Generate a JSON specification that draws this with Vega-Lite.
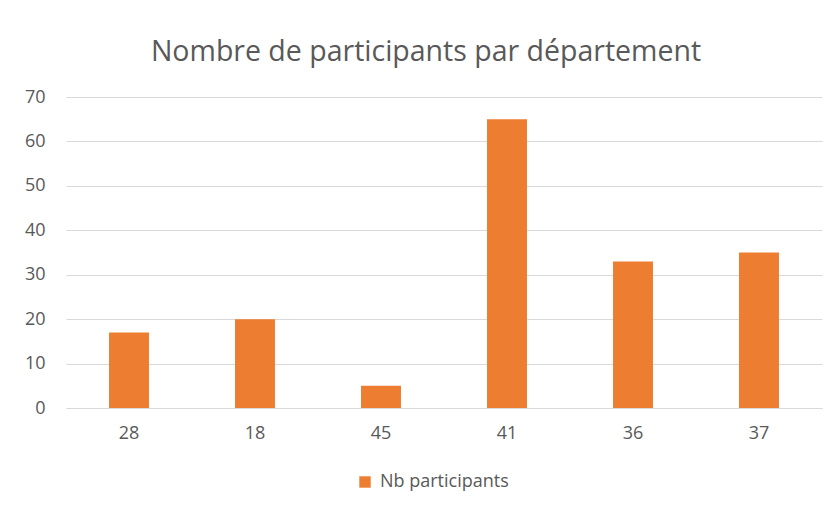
{
  "$schema": "https://vega.github.io/schema/vega-lite/v6.json",
  "width": 756,
  "height": 311,
  "autosize": "none",
  "padding": {"left": 66, "top": 97, "right": 16, "bottom": 98},
  "background": "white",
  "title": {
    "text": "Nombre de participants par département",
    "font": "Open Sans",
    "fontSize": 28.5,
    "fontWeight": "normal",
    "color": "#595959",
    "anchor": "middle",
    "dx": -18,
    "offset": 22
  },
  "data": {
    "values": [
      {"departement": "28", "participants": 17},
      {"departement": "18", "participants": 20},
      {"departement": "45", "participants": 5},
      {"departement": "41", "participants": 65},
      {"departement": "36", "participants": 33},
      {"departement": "37", "participants": 35}
    ]
  },
  "mark": {"type": "bar"},
  "encoding": {
    "x": {
      "field": "departement",
      "type": "nominal",
      "sort": null,
      "scale": {"paddingInner": 0.683, "paddingOuter": 0.3415},
      "axis": {
        "title": null,
        "labelAngle": 0,
        "ticks": false,
        "domain": true,
        "domainColor": "#d9d9d9",
        "labelPadding": 16,
        "labelFont": "Open Sans",
        "labelFontSize": 18,
        "labelColor": "#595959"
      }
    },
    "y": {
      "field": "participants",
      "type": "quantitative",
      "scale": {"domain": [0, 70]},
      "axis": {
        "title": null,
        "values": [0, 10, 20, 30, 40, 50, 60, 70],
        "ticks": false,
        "domain": false,
        "gridColor": "#d9d9d9",
        "labelPadding": 21,
        "labelFont": "Open Sans",
        "labelFontSize": 18,
        "labelColor": "#595959"
      }
    },
    "color": {
      "datum": "Nb participants",
      "scale": {"range": ["#ED7D31"]},
      "legend": {
        "title": null,
        "orient": "none",
        "legendX": 290,
        "legendY": 376,
        "direction": "horizontal",
        "symbolType": "square",
        "symbolSize": 130,
        "symbolStrokeWidth": 0,
        "labelOffset": 6,
        "labelFont": "Open Sans",
        "labelFontSize": 18,
        "labelColor": "#595959"
      }
    }
  },
  "config": {"view": {"stroke": null}}
}
